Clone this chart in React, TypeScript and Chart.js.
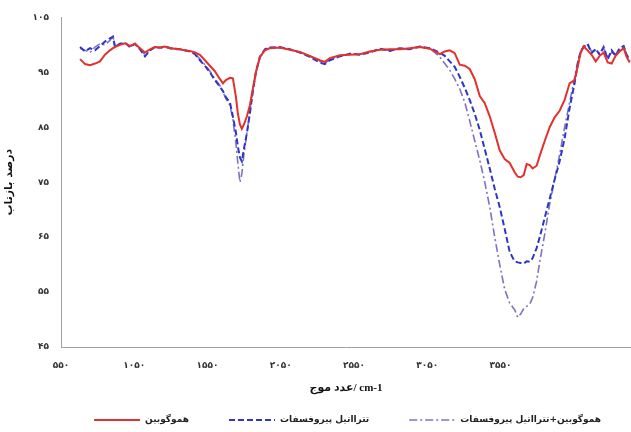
import React, { useEffect, useRef } from 'react';
import { Chart, registerables } from 'chart.js';

Chart.register(...registerables);

// Wavenumber (cm-1) sample positions
const wavenumbers = [
  680, 714, 748, 782, 816, 850, 884, 905, 918, 952, 987, 1021, 1055, 1089, 1123, 1157, 1191, 1225, 1259, 1293,
  1328, 1362, 1396, 1430, 1464, 1498, 1532, 1566, 1600, 1634, 1655, 1675, 1703, 1723, 1744, 1757, 1771, 1784,
  1798, 1819, 1839, 1859, 1880, 1907, 1941, 1975,
  2044, 2112, 2180, 2248, 2316, 2350, 2385, 2453, 2521, 2589, 2657, 2726, 2794, 2862, 2930, 2998, 3067, 3135,
  3169, 3203, 3237, 3271, 3305, 3339, 3373, 3408, 3442, 3476, 3510, 3544, 3578, 3612, 3646, 3667, 3687, 3708,
  3728, 3749, 3769, 3796, 3817, 3851, 3885, 3919, 3953, 3987, 4021, 4055, 4076, 4096, 4117, 4144, 4171, 4199,
  4226, 4253, 4281, 4308, 4335, 4362, 4390, 4410, 4431,
];

// هموگوبین
const hemoglobin = [
  97.4, 96.5, 96.3, 96.6, 97.0, 98.2, 99.0, 99.4, 99.6, 100.0, 100.3, 99.8, 100.2, 99.4, 98.6, 99.2, 99.6, 99.5, 99.7, 99.4,
  99.3, 99.2, 99.0, 98.9, 98.6, 98.2, 97.2, 96.2, 95.2, 93.8, 93.0, 93.6, 94.0, 93.9, 90.5, 87.5, 85.5, 84.7,
  85.5, 87.0, 89.0, 92.0, 95.0, 97.8, 99.0, 99.4,
  99.5, 99.1, 98.7, 98.0, 97.2, 96.9, 97.6, 98.1, 98.2, 98.3, 98.8, 99.1, 99.2, 99.2, 99.4, 99.6, 99.3, 98.3,
  98.8, 99.0, 98.5, 96.4, 96.2, 95.6, 93.8, 90.7, 89.4, 87.0, 84.0, 80.8, 79.2, 78.5, 76.8, 76.0, 75.9, 76.3,
  78.3, 78.1, 77.5, 78.0, 79.8, 82.5, 85.0, 86.8, 88.0, 90.0, 93.0, 93.6, 96.0, 98.5, 99.7, 99.0, 98.2, 97.0,
  98.0, 98.6, 96.8, 96.6, 98.0, 98.8, 99.4, 97.8, 96.8,
];

// تترااتیل پیروفسفات
const tepp = [
  99.6, 98.8, 99.4, 99.0, 99.8, 100.6, 101.2, 101.5, 99.6, 100.2, 100.4, 99.6, 100.2, 99.2, 97.9, 99.0, 99.6, 99.5, 99.7, 99.4,
  99.3, 99.2, 99.0, 98.8, 98.3, 97.2, 96.2, 95.0, 93.6, 92.4, 91.6, 90.5, 89.5, 87.0, 84.0, 81.5, 79.5, 78.8,
  81.0, 84.0, 87.5, 91.5, 95.0, 97.8, 99.2, 99.5,
  99.6, 99.2, 98.6, 97.8, 96.8, 96.5, 97.2, 97.9, 98.4, 98.2, 98.6, 99.3, 98.9, 99.4, 99.2, 99.7, 99.4, 98.6,
  98.0, 97.0, 96.0, 94.2, 92.2, 90.0, 87.5, 84.5, 81.0, 77.5, 73.8, 70.5, 66.5, 62.3, 60.6, 60.4, 60.3, 60.2,
  60.6, 60.5, 61.2, 63.0, 65.0, 68.5, 72.0, 75.5, 78.8, 83.0, 88.5, 93.0, 96.5, 98.8, 99.6, 100.2, 98.5, 99.3,
  98.2, 99.6, 97.4, 99.0, 98.0, 99.4, 99.8, 98.2, 97.0,
];

// هموگوبین+تترااتیل پیروفسفات
const hemoTepp = [
  99.4, 99.0, 98.6, 99.6, 100.2, 100.0, 100.8, 101.6, 99.8, 100.0, 100.4, 99.7, 100.1, 99.3, 98.2, 99.0, 99.6, 99.4, 99.6, 99.5,
  99.2, 99.1, 99.0, 98.8, 98.4, 97.4, 96.4, 95.2, 93.8, 92.6, 91.5, 90.2, 89.0, 86.5, 82.0, 78.5, 75.0, 76.5,
  80.0, 84.0, 87.8, 91.6, 95.0, 97.6, 99.0, 99.4,
  99.5, 99.1, 98.7, 97.9, 97.0, 96.6, 97.4, 98.0, 98.3, 98.3, 98.7, 99.2, 99.0, 99.3, 99.3, 99.6, 99.4, 97.8,
  96.6, 95.4, 93.8, 92.0, 89.6, 86.2, 82.6, 79.0, 75.0, 70.5, 65.0, 60.0, 55.5, 53.0, 51.8, 50.4, 51.0, 52.0,
  52.4, 52.8, 54.0, 57.0, 60.5, 65.5, 71.0, 75.5, 80.0, 85.0, 89.5, 94.0, 96.8, 98.8, 99.8, 100.0, 98.8, 99.0,
  98.5, 99.4, 97.8, 98.6, 98.3, 99.2, 99.6, 98.4, 97.2,
];

const seriesLabels = ['هموگوبین', 'تترااتیل پیروفسفات', 'هموگوبین+تترااتیل پیروفسفات'];
const xTickValues = [550, 1050, 1550, 2050, 2550, 3050, 3550];
const yTickValues = [45, 55, 65, 75, 85, 95, 105];
const xAxisTitle = 'عدد موج/ cm-1';
const yAxisTitle = 'درصد بازتاب';

const faDigits = '۰۱۲۳۴۵۶۷۸۹';
const toFa = (v: number | string) => String(v).replace(/\d/g, (d) => faDigits[Number(d)]);

// Bottom legend: [line sample][label] items, drawn on the chart canvas
const lineLegend = {
  id: 'lineLegend',
  afterDraw(chart: any) {
    const ctx: CanvasRenderingContext2D = chart.ctx;
    const sampleLen = 46;
    const sampleGap = 5;
    const itemGap = 40;
    const y = 420;
    ctx.save();
    ctx.font = 'bold 9px "DejaVu Sans"';
    ctx.textBaseline = 'middle';
    ctx.textAlign = 'left';
    const widths = chart.data.datasets.map((ds: any) => ctx.measureText(ds.label).width);
    const total =
      widths.reduce((a: number, b: number) => a + b, 0) +
      widths.length * (sampleLen + sampleGap) +
      (widths.length - 1) * itemGap;
    let x = chart.width / 2 + 32 - total / 2;
    chart.data.datasets.forEach((ds: any, i: number) => {
      ctx.strokeStyle = ds.borderColor;
      ctx.lineWidth = ds.borderWidth;
      ctx.setLineDash(ds.borderDash || []);
      ctx.beginPath();
      ctx.moveTo(x, y);
      ctx.lineTo(x + sampleLen, y);
      ctx.stroke();
      ctx.setLineDash([]);
      ctx.fillStyle = '#222';
      ctx.fillText(ds.label, x + sampleLen + sampleGap, y);
      x += sampleLen + sampleGap + widths[i] + itemGap;
    });
    ctx.restore();
  },
};

export default function App() {
  const canvasRef = useRef<HTMLCanvasElement | null>(null);

  useEffect(() => {
    if (!canvasRef.current) return;
    const styles = [
      { color: '#e3312d', dash: [] as number[], width: 2 },
      { color: '#2e35c9', dash: [6, 3], width: 2 },
      { color: '#7d72c6', dash: [8, 3, 2, 3], width: 1.6 },
    ];
    const seriesData = [hemoglobin, tepp, hemoTepp];

    const chart = new Chart(canvasRef.current, {
      type: 'line',
      data: {
        datasets: seriesData.map((vals, i) => ({
          label: seriesLabels[i],
          data: vals.map((v, j) => ({ x: wavenumbers[j], y: v })),
          borderColor: styles[i].color,
          borderWidth: styles[i].width,
          borderDash: styles[i].dash,
          pointRadius: 0,
          tension: 0,
          fill: false,
        })),
      },
      options: {
        animation: false,
        responsive: false,
        layout: { padding: { top: 15, right: 0, left: 0, bottom: 29 } },
        scales: {
          x: {
            type: 'linear',
            min: 550,
            max: 4440,
            afterBuildTicks: (scale: any) => {
              scale.ticks = xTickValues.map((v) => ({ value: v }));
            },
            afterFit: (scale: any) => {
              scale.height = 56;
            },
            grid: { display: false, drawTicks: false },
            border: { display: true, color: '#a0a0a0', width: 1 },
            ticks: {
              autoSkip: false,
              maxRotation: 0,
              padding: 13,
              color: '#333',
              font: { family: 'DejaVu Sans', size: 9, weight: 'bold' },
              callback: (v: any) => toFa(v),
            },
            title: {
              display: true,
              text: xAxisTitle,
              color: '#111',
              font: { family: "'Liberation Serif', 'DejaVu Sans'", size: 11, weight: 'bold' },
              padding: { top: 0, bottom: 8 },
            },
          },
          y: {
            type: 'linear',
            min: 45,
            max: 105,
            afterBuildTicks: (scale: any) => {
              scale.ticks = yTickValues.map((v) => ({ value: v }));
            },
            afterFit: (scale: any) => {
              scale.width = 61;
            },
            grid: { display: false, drawTicks: false },
            border: { display: true, color: '#a0a0a0', width: 1 },
            ticks: {
              padding: 12,
              color: '#333',
              font: { family: 'DejaVu Sans', size: 9, weight: 'bold' },
              callback: (v: any) => toFa(v),
            },
            title: {
              display: true,
              text: yAxisTitle,
              color: '#111',
              font: { family: 'DejaVu Sans', size: 11, weight: 'bold' },
              padding: { top: 3, bottom: 0 },
            },
          },
        },
        plugins: {
          tooltip: { enabled: false },
          legend: { display: false },
        },
      } as any,
      plugins: [lineLegend],
    });
    return () => chart.destroy();
  }, []);

  return (
    <div style={{ position: 'fixed', left: 0, top: 0, width: 631, height: 432, background: '#fff' }}>
      <canvas ref={canvasRef} width={631} height={432} />
    </div>
  );
}
